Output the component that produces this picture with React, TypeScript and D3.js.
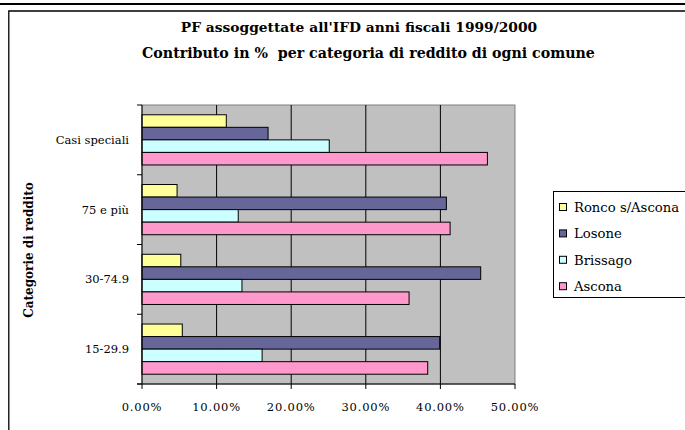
import * as d3 from "d3";

const WIDTH = 685;
const HEIGHT = 430;
const PLOT = { left: 142, top: 105, right: 515, bottom: 384 };
const FONT = '"DejaVu Serif", "Liberation Serif", serif';

// categories from top to bottom, as drawn
const categories = ["Casi speciali", "75 e più", "30-74.9", "15-29.9"];
// series in the order they appear inside each band (top to bottom)
const seriesNames = ["Ronco s/Ascona", "Losone", "Brissago", "Ascona"];
const seriesColors = ["#FFFF99", "#666699", "#CCFFFF", "#FF99CC"];

const ronco = [11.3, 4.7, 5.2, 5.4];
const losone = [16.9, 40.8, 45.4, 39.9];
const brissago = [25.1, 12.9, 13.4, 16.1];
const ascona = [46.3, 41.3, 35.8, 38.3];
const seriesValues = [ronco, losone, brissago, ascona];

const xTicks = [0, 10, 20, 30, 40, 50];

export default function App() {
  const xScale = d3.scaleLinear().domain([0, 50]).range([PLOT.left, PLOT.right]);
  const yScale = d3
    .scaleBand<string>()
    .domain(categories)
    .range([PLOT.top, PLOT.bottom])
    .paddingInner(0)
    .paddingOuter(0);
  const inner = d3
    .scaleBand<string>()
    .domain(seriesNames)
    .range([0, yScale.bandwidth()])
    .paddingOuter(0.78)
    .paddingInner(0);

  const boundaries = [...categories.map((c) => yScale(c)!), PLOT.bottom];

  return (
    <svg
      width={WIDTH}
      height={HEIGHT}
      style={{ position: "absolute", left: 0, top: 0, background: "#fff", fontFamily: FONT }}
    >
      {/* page rule above the chart frame */}
      <line x1={0} x2={WIDTH} y1={4} y2={4} stroke="#000" strokeWidth={2} />
      {/* chart frame */}
      <path d={`M8.8,${HEIGHT} V11 H${WIDTH}`} fill="none" stroke="#000" strokeWidth={1.3} />

      <text x={359} y={32} textAnchor="middle" fontSize={13.8} fontWeight="bold">
        PF assoggettate all'IFD anni fiscali 1999/2000
      </text>
      <text x={368.5} y={58} textAnchor="middle" fontSize={14.2} fontWeight="bold" style={{ whiteSpace: "pre" }}>
        Contributo in %  per categoria di reddito di ogni comune
      </text>

      {/* plot area */}
      <rect
        x={PLOT.left}
        y={PLOT.top}
        width={PLOT.right - PLOT.left}
        height={PLOT.bottom - PLOT.top}
        fill="#C0C0C0"
        stroke="#808080"
        strokeWidth={1}
      />
      {xTicks.slice(1, -1).map((t) => (
        <line key={t} x1={xScale(t)} x2={xScale(t)} y1={PLOT.top} y2={PLOT.bottom} stroke="#000" strokeWidth={1} />
      ))}

      {/* bars */}
      {categories.map((cat, ci) => (
        <g key={cat} transform={`translate(0,${yScale(cat)})`}>
          {seriesNames.map((s, si) => (
            <rect
              key={s}
              x={xScale(0)}
              y={inner(s)}
              width={xScale(seriesValues[si][ci]) - xScale(0)}
              height={inner.bandwidth()}
              fill={seriesColors[si]}
              stroke="#000"
              strokeWidth={1}
            />
          ))}
        </g>
      ))}

      {/* axes */}
      <line x1={PLOT.left} x2={PLOT.left} y1={PLOT.top} y2={PLOT.bottom} stroke="#000" strokeWidth={1} />
      <line x1={PLOT.left - 5} x2={PLOT.right} y1={PLOT.bottom} y2={PLOT.bottom} stroke="#000" strokeWidth={1} />
      {boundaries.map((b, i) => (
        <line key={i} x1={PLOT.left - 5} x2={PLOT.left} y1={b} y2={b} stroke="#000" />
      ))}
      {xTicks.map((t) => (
        <g key={t}>
          <line x1={xScale(t)} x2={xScale(t)} y1={PLOT.bottom} y2={PLOT.bottom + 5} stroke="#000" />
          <text x={xScale(t)} y={411} textAnchor="middle" fontSize={11.5} letterSpacing={0.8}>
            {t.toFixed(2)}%
          </text>
        </g>
      ))}
      {categories.map((cat) => (
        <text
          key={cat}
          x={129}
          y={yScale(cat)! + yScale.bandwidth() / 2 + 4}
          textAnchor="end"
          fontSize={11.5}
        >
          {cat}
        </text>
      ))}

      <text
        transform="translate(33,250) rotate(-90)"
        textAnchor="middle"
        fontSize={12}
        fontWeight="bold"
      >
        Categorie di reddito
      </text>

      {/* legend */}
      <rect x={553.5} y={191.5} width={140} height={106} fill="#fff" stroke="#000" strokeWidth={1} />
      {seriesNames.map((s, i) => (
        <g key={s} transform={`translate(559,${207 + i * 26.4})`}>
          <rect x={0.5} y={-3.5} width={7} height={7} fill={seriesColors[i]} stroke="#000" strokeWidth={1} />
          <text x={15} y={5} fontSize={13.2}>
            {s}
          </text>
        </g>
      ))}
    </svg>
  );
}
